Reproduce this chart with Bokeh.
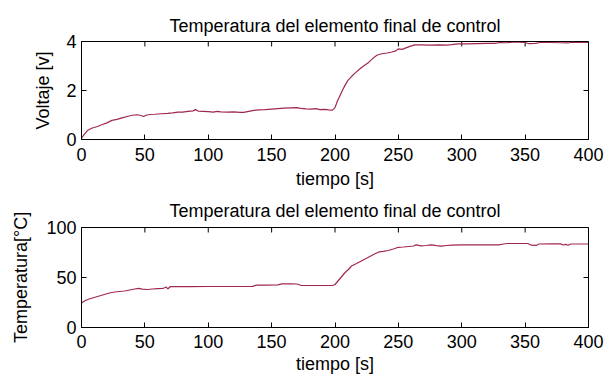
import math
from bokeh.plotting import figure
from bokeh.models import Range1d, FixedTicker
from bokeh.layouts import column
from bokeh.embed import file_html
from bokeh.resources import INLINE

# ---- data ----
t_volt = [0, 2, 5, 8, 12, 16, 20, 24, 28, 32, 36, 40, 44, 47, 49, 51, 54, 58, 63, 68,
          72, 76, 80, 84, 88, 90, 92, 96, 100, 104, 107, 110, 115, 120, 125, 128, 132,
          136, 140, 145, 150, 155, 160, 165, 170, 173, 177, 181, 185, 188, 192, 195, 198,
          200, 202, 204, 206, 208, 210, 213, 216, 220, 223, 226, 229, 233, 237, 241, 245,
          248, 250, 253, 256, 259, 263, 268, 275, 282, 288, 292, 297, 305, 312, 320, 326,
          330, 335, 340, 345, 350, 353, 358, 362, 370, 378, 384, 386, 392, 400]
voltaje = [0.05, 0.2, 0.38, 0.46, 0.52, 0.6, 0.68, 0.78, 0.82, 0.88, 0.94, 0.99, 1.01, 0.98,
           0.94, 0.99, 1.02, 1.03, 1.05, 1.07, 1.09, 1.12, 1.12, 1.15, 1.17, 1.22, 1.16,
           1.15, 1.14, 1.12, 1.15, 1.13, 1.12, 1.13, 1.11, 1.11, 1.15, 1.19, 1.21, 1.22,
           1.24, 1.26, 1.28, 1.29, 1.30, 1.27, 1.25, 1.24, 1.26, 1.22, 1.23, 1.21, 1.20,
           1.30, 1.58, 1.80, 2.02, 2.22, 2.40, 2.57, 2.72, 2.90, 3.02, 3.12, 3.27, 3.44,
           3.50, 3.53, 3.57, 3.62, 3.70, 3.68, 3.74, 3.80, 3.86, 3.86, 3.85, 3.86, 3.85,
           3.87, 3.90, 3.90, 3.91, 3.92, 3.92, 3.96, 3.95, 3.97, 3.97, 3.96, 3.91, 3.92,
           3.96, 3.96, 3.95, 3.94, 3.97, 3.96, 3.96]

t_temp = [0, 3, 6, 10, 14, 18, 22, 26, 30, 34, 38, 42, 45, 48, 52, 56, 60, 64, 67, 68, 70,
          75, 85, 100, 115, 125, 135, 138, 145, 155, 158, 165, 170, 173, 180, 190, 198,
          200, 203, 206, 208, 211, 213, 217, 220, 223, 226, 229, 232, 235, 238, 242, 246,
          250, 254, 258, 262, 264, 268, 272, 276, 280, 284, 288, 292, 300, 310, 320, 329,
          333, 336, 345, 352, 355, 359, 361, 370, 378, 380, 382, 384, 386, 395, 400]
temperatura = [24.5, 27, 28.5, 30, 31.5, 33, 34.5, 35.5, 36, 36.5, 37.5, 38.5, 39.2, 38.3,
               38, 38.5, 38.8, 39, 40.5, 38.5, 40.8, 40.8, 40.9, 41, 41, 41, 41.2, 42.3,
               42.4, 42.6, 43.6, 43.7, 43.5, 42.2, 42, 42, 42, 43, 47.5, 52, 55, 58.5,
               61.5, 64, 66, 68, 70, 72, 74, 75.7, 76.2, 77, 78.5, 80.2, 80.5, 81, 81.5,
               82.6, 81.6, 82, 82.6, 81.8, 81.3, 82, 82.4, 82.6, 82.6, 82.6, 82.7, 83.5,
               84, 84, 84, 82.3, 82.2, 83.5, 83.6, 83.6, 82.5, 83.1, 82.3, 83.5, 83.5, 83.5]

x_ticks = [0, 50, 100, 150, 200, 250, 300, 350, 400]
volt_ticks = [0, 2, 4]
temp_ticks = [0, 50, 100]

TITLE = "Temperatura del elemento final de control"
FONT = "Liberation Sans"
FS = "18px"
LINE = "#A0284B"


def make_fig(height, top, bottom, ymax, yticks, ylabel, x, y,
             tick_standoff, label_standoff, title_standoff, ylabel_standoff):
    p = figure(width=615, height=height, x_range=Range1d(0, 400), y_range=Range1d(0, ymax),
               output_backend="svg", toolbar_location=None,
               min_border_left=81, min_border_right=27,
               min_border_top=top, min_border_bottom=bottom,
               x_axis_label="tiempo [s]", y_axis_label=ylabel)
    p.title.text = TITLE
    p.title.align = "center"
    p.title.text_font = FONT
    p.title.text_font_size = FS
    p.title.text_font_style = "normal"
    p.title.text_color = "#000000"
    p.title.standoff = title_standoff
    p.xgrid.visible = False
    p.ygrid.visible = False
    p.outline_line_color = "#000000"
    p.outline_line_width = 1
    p.outline_line_alpha = 1
    for ax, tk in ((p.xaxis[0], x_ticks), (p.yaxis[0], yticks)):
        ax.ticker = FixedTicker(ticks=tk)
        ax.major_tick_in = 5
        ax.major_tick_out = 0
        ax.minor_tick_line_color = None
        ax.major_label_text_font = FONT
        ax.major_label_text_font_size = FS
        ax.major_label_text_color = "#000000"
        ax.axis_label_text_font = FONT
        ax.axis_label_text_font_size = FS
        ax.axis_label_text_font_style = "normal"
        ax.axis_label_text_color = "#000000"
        ax.axis_line_color = "#000000"
        ax.major_tick_line_color = "#000000"
    p.xaxis[0].major_label_standoff = tick_standoff
    p.xaxis[0].axis_label_standoff = label_standoff
    p.yaxis[0].major_label_standoff = 5
    p.yaxis[0].axis_label_standoff = ylabel_standoff
    # tick marks on the top and right edges of the box (clipped to the frame)
    p.scatter(x=x_ticks, y=[ymax] * len(x_ticks), marker="dash", angle=math.pi / 2,
              size=10, line_color="#000000", line_width=1)
    p.scatter(x=[400] * len(yticks), y=yticks, marker="dash",
              size=10, line_color="#000000", line_width=1)
    p.line(x, y, line_color=LINE, line_width=1.2)
    return p


p1 = make_fig(191, 41, 51, 4, volt_ticks, "Voltaje [v]", t_volt, voltaje,
              tick_standoff=8, label_standoff=5, title_standoff=12, ylabel_standoff=10)
p2 = make_fig(186, 36, 50, 100, temp_ticks, "Temperatura[°C]", t_temp, temperatura,
              tick_standoff=7, label_standoff=3, title_standoff=14, ylabel_standoff=12)

layout = column(p1, p2, spacing=0)
open("out.html", "w").write(file_html(layout, INLINE))
